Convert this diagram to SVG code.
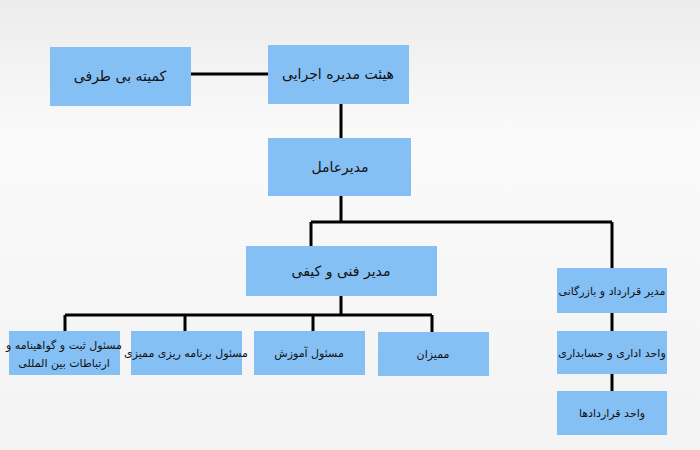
<svg xmlns="http://www.w3.org/2000/svg" width="700" height="450" viewBox="0 0 700 450">
<defs>
<linearGradient id="bg" x1="0" y1="0" x2="0" y2="1"><stop offset="0" stop-color="#ececec"/><stop offset="0.3" stop-color="#fafafa"/><stop offset="1" stop-color="#f3f3f3"/></linearGradient>
</defs>
<style>
.b{fill:#85c0f5}
.c{stroke:#000;stroke-width:3;fill:none}
text{font-family:"DejaVu Sans","Noto Sans",sans-serif;fill:#111;text-anchor:middle;dominant-baseline:central}
.l{font-size:14px}.s{font-size:11px}
</style>
<rect width="700" height="450" fill="url(#bg)"/>
<g id="connectors" class="c">
<path d="M191 74H268M341 104V138M341 196V222M311 222H612M311 222V246M612 222V268M341 296V315M65 315H432M65 315V331M185 315V331M313 315V331M432 315V332M612 313V331M612 374V391"/>
</g>
<g id="n1"><rect class="b" x="50" y="47" width="141" height="59"/><text class="l" x="120" y="76">کمیته بی طرفی</text></g>
<g id="n2"><rect class="b" x="268" y="45" width="141" height="59"/><text class="l" x="338" y="74">هیئت مدیره اجرایی</text></g>
<g id="n3"><rect class="b" x="268" y="138" width="143" height="58"/><text class="l" x="340" y="167">مدیرعامل</text></g>
<g id="n4"><rect class="b" x="246" y="246" width="191" height="50"/><text class="l" x="341" y="271">مدیر فنی و کیفی</text></g>
<g id="n5"><rect class="b" x="557" y="268" width="110" height="45"/><text class="s" x="612" y="291">مدیر قرارداد و بازرگانی</text></g>
<g id="n6"><rect class="b" x="9" y="331" width="111" height="44"/><text class="s" x="64" y="345">مسئول ثبت و گواهینامه و</text><text class="s" x="64" y="363">ارتباطات بین المللی</text></g>
<g id="n7"><rect class="b" x="131" y="331" width="111" height="44"/><text class="s" x="186" y="353">مسئول برنامه ریزی ممیزی</text></g>
<g id="n8"><rect class="b" x="254" y="331" width="111" height="44"/><text class="s" x="309" y="353">مسئول آموزش</text></g>
<g id="n9"><rect class="b" x="378" y="332" width="111" height="44"/><text class="s" x="433" y="354">ممیزان</text></g>
<g id="n10"><rect class="b" x="557" y="331" width="110" height="43"/><text class="s" x="612" y="353">واحد اداری و حسابداری</text></g>
<g id="n11"><rect class="b" x="557" y="391" width="110" height="44"/><text class="s" x="612" y="413">واحد قراردادها</text></g>
</svg>
